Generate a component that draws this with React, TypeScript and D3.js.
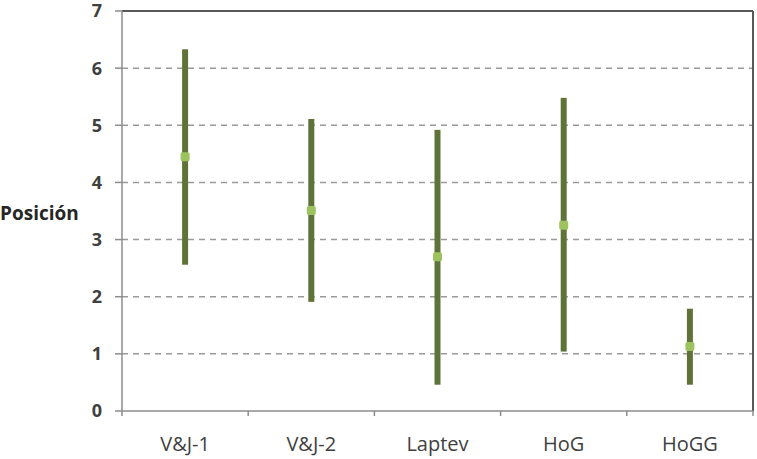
import * as d3 from 'd3';
import React from 'react';

const categories = ['V&J-1', 'V&J-2', 'Laptev', 'HoG', 'HoGG'];
const highValues = [6.33, 5.11, 4.92, 5.48, 1.79];
const lowValues = [2.56, 1.91, 0.46, 1.04, 0.46];
const meanValues = [4.45, 3.51, 2.70, 3.25, 1.13];
const yTicks = [0, 1, 2, 3, 4, 5, 6, 7];

const W = 757;
const H = 459;
const margin = { left: 122, right: 4, top: 11, bottom: 48 };

const App = () => {
    const x = d3.scaleBand()
        .domain(categories)
        .range([margin.left, W - margin.right]);
    const y = d3.scaleLinear()
        .domain([0, 7])
        .range([H - margin.bottom, margin.top]);
    const font = '"Open Sans", "Noto Sans", sans-serif';

    return (
        <svg width={W} height={H} style={{ position: 'absolute', left: 0, top: 0 }}>
            <rect width={W} height={H} fill="#fff" />
            {yTicks.filter(t => t > 0 && t < 7).map(t => (
                <line key={'g' + t} x1={margin.left} x2={W - margin.right} y1={y(t)} y2={y(t)}
                    stroke="#9a9a9a" strokeWidth={1.5} strokeDasharray="6,5" />
            ))}
            {/* frame */}
            <line x1={margin.left} x2={W - margin.right} y1={y(7)} y2={y(7)} stroke="#595959" strokeWidth={2} />
            <line x1={W - margin.right} x2={W - margin.right} y1={y(7)} y2={y(0)} stroke="#595959" strokeWidth={2} />
            <line x1={margin.left} x2={margin.left} y1={y(7)} y2={y(0)} stroke="#8c8c8c" strokeWidth={1.5} />
            <line x1={margin.left} x2={W - margin.right} y1={y(0)} y2={y(0)} stroke="#8c8c8c" strokeWidth={1.5} />
            {yTicks.map(t => (
                <g key={'t' + t}>
                    <line x1={margin.left - 7} x2={margin.left} y1={y(t)} y2={y(t)} stroke="#8c8c8c" strokeWidth={1.5} />
                    <text x={margin.left - 20} y={y(t)} dy="0.36em" textAnchor="end"
                        fontFamily={font} fontSize={18} fontWeight="bold" fill="#404040">{t}</text>
                </g>
            ))}
            {categories.map((c, i) => (
                <line key={'xt' + i} x1={x(c)} x2={x(c)} y1={y(0)} y2={y(0) + 5} stroke="#8c8c8c" strokeWidth={1.5} />
            ))}
            <line x1={W - margin.right} x2={W - margin.right} y1={y(0)} y2={y(0) + 5} stroke="#8c8c8c" strokeWidth={1.5} />
            {categories.map((c, i) => (
                <text key={'xl' + i} x={x(c) + x.bandwidth() / 2} y={y(0) + 40} textAnchor="middle"
                    fontFamily={font} fontSize={20} fill="#404040">{c}</text>
            ))}
            <text x={0} y={220} fontFamily={font} fontSize={19} fontWeight="bold" fill="#262626">Posición</text>
            {categories.map((c, i) => {
                const cx = x(c) + x.bandwidth() / 2;
                return (
                    <g key={'b' + i}>
                        <rect x={cx - 3} y={y(highValues[i])} width={6} height={y(lowValues[i]) - y(highValues[i])}
                            fill="#5f7338" />
                        <rect x={cx - 4.5} y={y(meanValues[i]) - 4.5} width={9} height={9} rx={2} fill="#9cc35e" />
                    </g>
                );
            })}
        </svg>
    );
};

export default App;
